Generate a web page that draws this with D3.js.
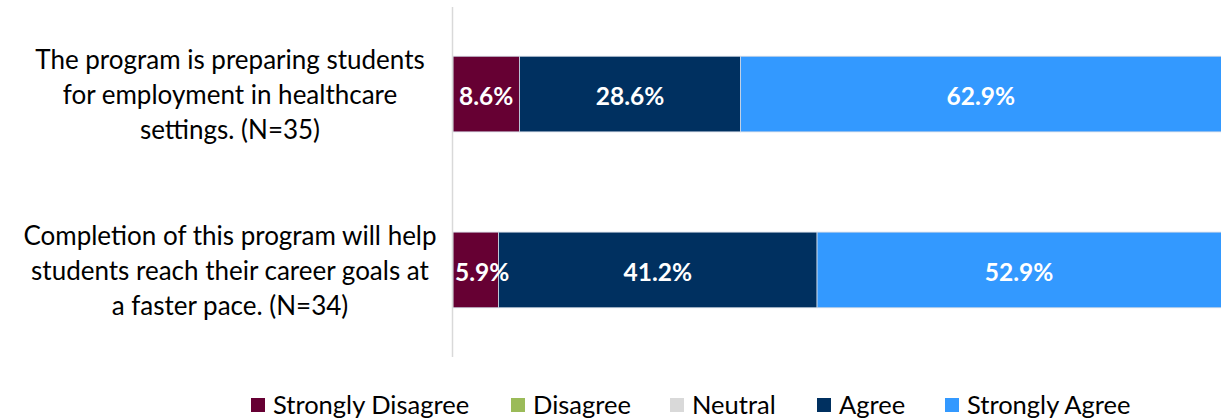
<!DOCTYPE html>
<html>
<head>
<meta charset="utf-8">
<script src="https://cdn.jsdelivr.net/npm/d3@7"></script>
<style>
  body { margin: 0; background: #fff; }
  svg { display: block; font-family: Lato, "Open Sans", sans-serif; }
</style>
</head>
<body>
<svg width="1221" height="419"></svg>
<script>
// data
var categories = [
  ["The program is preparing students", "for employment in healthcare", "settings. (N=35)"],
  ["Completion of this program will help", "students reach their career goals at", "a faster pace. (N=34)"]
];
var responses = ["Strongly Disagree", "Disagree", "Neutral", "Agree", "Strongly Agree"];
var values = [
  [8.6, 0, 0, 28.6, 62.9],
  [5.9, 0, 0, 41.2, 52.9]
];
var colors = ["#660033", "#9BBB59", "#D9D9D9", "#003060", "#3399FF"];

var svg = d3.select('svg');
var x0 = 453, x1 = 1226;

var x = d3.scaleLinear().domain([0, 100]).range([x0, x1]);
var y = d3.scaleBand().domain(d3.range(categories.length)).range([7, 357]).paddingInner(0.57).paddingOuter(0.28);

// stacked rows
var rows = values.map(function (v, i) {
  var acc = 0;
  return v.map(function (val, k) {
    var seg = { row: i, k: k, start: acc, end: acc + val, val: val };
    acc += val;
    return seg;
  }).filter(function (s) { return s.val > 0; });
});

var g = svg.append('g');

g.selectAll('g.row')
  .data(rows)
  .enter()
  .append('g')
  .attr('class', 'row')
  .each(function (segs) {
    var r = d3.select(this);
    r.selectAll('rect')
      .data(segs)
      .enter()
      .append('rect')
      .attr('x', function (d) { return x(d.start); })
      .attr('y', function (d) { return y(d.row); })
      .attr('width', function (d) { return x(d.end) - x(d.start); })
      .attr('height', y.bandwidth())
      .attr('fill', function (d) { return colors[d.k]; })
      .attr('stroke', '#d0d8e4')
      .attr('stroke-width', 0.8);

    r.selectAll('text')
      .data(segs)
      .enter()
      .append('text')
      .attr('x', function (d) { return (x(d.start) + Math.min(x(d.end), 1221)) / 2; })
      .attr('y', function (d) { return y(d.row) + y.bandwidth() / 2 + 2; })
      .attr('dy', '0.36em')
      .attr('text-anchor', 'middle')
      .attr('fill', '#fff')
      .attr('font-weight', 'bold')
      .attr('font-size', 24.5)
      .text(function (d) { return d.val.toFixed(1) + '%'; })
      .each(function () {
        // keep labels clear of the axis line
        var b = this.getBBox();
        if (b.x < x0 + 2) d3.select(this).attr('x', +d3.select(this).attr('x') + (x0 + 2 - b.x));
      });
  });

// axis line
svg.append('line')
  .attr('x1', x0 - 0.5).attr('x2', x0 - 0.5)
  .attr('y1', 7).attr('y2', 357)
  .attr('stroke', '#d9d9d9')
  .attr('stroke-width', 1.5);

// category labels
categories.forEach(function (lines, i) {
  var cy = y(i) + y.bandwidth() / 2;
  var t = svg.append('text')
    .attr('text-anchor', 'middle')
    .attr('font-size', 26)
    .attr('fill', '#000');
  lines.forEach(function (line, j) {
    t.append('tspan')
      .attr('x', 230)
      .attr('y', cy + (j - 1) * 35 + 1)
      .attr('dy', '0.36em')
      .text(line);
  });
});

// legend
var legendX = [251, 511, 670, 817, 945];
var legend = svg.selectAll('g.legend')
  .data(responses)
  .enter()
  .append('g')
  .attr('class', 'legend')
  .attr('transform', function (d, i) { return 'translate(' + legendX[i] + ',405)'; });

legend.append('rect')
  .attr('x', 0).attr('y', -7)
  .attr('width', 14).attr('height', 14)
  .attr('fill', function (d, i) { return colors[i]; });

legend.append('text')
  .attr('x', 22)
  .attr('dy', '0.36em')
  .attr('font-size', 25.5)
  .attr('fill', '#000')
  .text(function (d) { return d; });
</script>
</body>
</html>
